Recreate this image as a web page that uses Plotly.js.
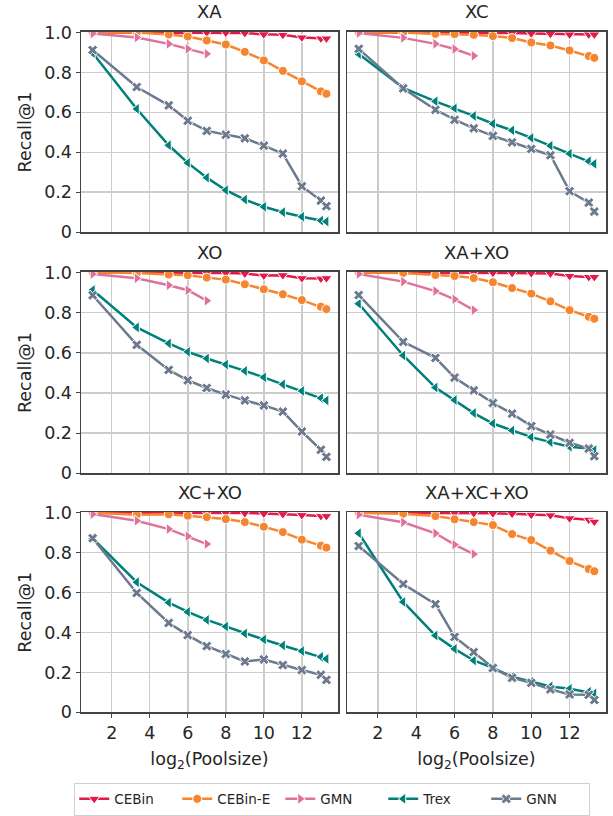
<!DOCTYPE html>
<html>
<head>
<meta charset="utf-8">
<script src="https://cdn.plot.ly/plotly-3.0.1.min.js"></script>
<style>html,body{margin:0;padding:0;background:#fff;}#chart{width:613px;height:816px;}</style>
</head>
<body>
<div id="chart"></div>
<script>
// log2(pool size): 2, 10, 32, 64, ..., 8192, 10000
const poolLog2 = [1, 3.32, 5, 6, 7, 8, 9, 10, 11, 12, 13, 13.29];
const gmnPoolLog2 = [1, 3.32, 5, 6, 7];
const panels = ['XA', 'XC', 'XO', 'XA+XO', 'XC+XO', 'XA+XC+XO'];
const methods = ['CEBin', 'CEBin-E', 'GMN', 'Trex', 'GNN'];
const xTicks = [2, 4, 6, 8, 10, 12];
const yTicks = [0, 0.2, 0.4, 0.6, 0.8, 1.0];
const yTickText = ['0', '0.2', '0.4', '0.6', '0.8', '1.0'];

const cebin = [
  [1.0, 1.0, 1.0, 1.0, 1.0, 0.999, 0.997, 0.991, 0.988, 0.975, 0.970, 0.970],
  [1.0, 1.0, 1.0, 1.0, 1.0, 1.0, 0.998, 0.995, 0.993, 0.990, 0.990, 0.990],
  [1.0, 1.0, 1.0, 1.0, 0.999, 0.998, 0.995, 0.985, 0.987, 0.972, 0.970, 0.972],
  [1.0, 1.0, 1.0, 1.0, 1.0, 0.999, 0.998, 0.997, 0.995, 0.983, 0.978, 0.978],
  [1.0, 1.0, 1.0, 1.0, 1.0, 0.999, 0.998, 0.996, 0.993, 0.988, 0.983, 0.983],
  [1.0, 1.0, 1.0, 0.999, 0.998, 0.997, 0.995, 0.990, 0.987, 0.972, 0.965, 0.955]
];
const cebinE = [
  [1.0, 1.0, 0.990, 0.980, 0.960, 0.940, 0.903, 0.860, 0.808, 0.755, 0.705, 0.693],
  [1.0, 1.0, 0.993, 0.992, 0.988, 0.982, 0.972, 0.950, 0.935, 0.910, 0.882, 0.873],
  [1.0, 0.998, 0.990, 0.987, 0.975, 0.965, 0.942, 0.917, 0.892, 0.863, 0.830, 0.818],
  [1.0, 0.998, 0.988, 0.983, 0.973, 0.952, 0.923, 0.895, 0.857, 0.813, 0.780, 0.770],
  [1.0, 0.990, 0.992, 0.985, 0.978, 0.968, 0.953, 0.930, 0.903, 0.865, 0.835, 0.825],
  [1.0, 0.995, 0.983, 0.967, 0.953, 0.938, 0.893, 0.863, 0.810, 0.758, 0.718, 0.707]
];
const gmn = [
  [0.995, 0.975, 0.943, 0.918, 0.893],
  [0.997, 0.973, 0.943, 0.917, 0.883],
  [0.993, 0.972, 0.937, 0.912, 0.860],
  [0.993, 0.955, 0.908, 0.867, 0.813],
  [0.993, 0.960, 0.918, 0.882, 0.843],
  [0.990, 0.952, 0.897, 0.840, 0.793]
];
const trex = [
  [0.897, 0.617, 0.435, 0.347, 0.273, 0.210, 0.163, 0.127, 0.100, 0.077, 0.058, 0.053],
  [0.892, 0.722, 0.655, 0.620, 0.582, 0.543, 0.510, 0.472, 0.433, 0.393, 0.355, 0.342],
  [0.913, 0.727, 0.647, 0.605, 0.572, 0.542, 0.510, 0.478, 0.443, 0.410, 0.375, 0.363],
  [0.845, 0.587, 0.427, 0.365, 0.300, 0.248, 0.213, 0.180, 0.155, 0.132, 0.123, 0.115],
  [0.872, 0.652, 0.550, 0.503, 0.463, 0.430, 0.395, 0.365, 0.335, 0.307, 0.278, 0.268],
  [0.897, 0.553, 0.385, 0.318, 0.260, 0.223, 0.178, 0.153, 0.130, 0.118, 0.103, 0.095]
];
const gnn = [
  [0.912, 0.727, 0.635, 0.558, 0.507, 0.488, 0.470, 0.433, 0.393, 0.230, 0.158, 0.130],
  [0.918, 0.720, 0.613, 0.563, 0.520, 0.482, 0.450, 0.417, 0.385, 0.205, 0.148, 0.103],
  [0.887, 0.640, 0.515, 0.463, 0.425, 0.392, 0.363, 0.338, 0.307, 0.208, 0.117, 0.082],
  [0.888, 0.655, 0.575, 0.477, 0.413, 0.350, 0.297, 0.235, 0.193, 0.152, 0.123, 0.085],
  [0.872, 0.598, 0.448, 0.387, 0.332, 0.292, 0.255, 0.265, 0.237, 0.212, 0.188, 0.163],
  [0.833, 0.643, 0.542, 0.378, 0.302, 0.222, 0.173, 0.148, 0.115, 0.090, 0.088, 0.062]
];

const colors = ['#e3194b', '#f5862f', '#e0719b', '#00807b', '#6c7a8e'];
const symbols = ['triangle-down', 'circle', 'triangle-right', 'triangle-left', 'x'];
const sizes = [10, 9, 10, 10, 9];
const seriesData = [cebin, cebinE, gmn, trex, gnn];

const txtColor = '#262626';
const font = 'DejaVu Sans, sans-serif';

const colDom = [[81/613, 338/613], [347/613, 606/613]];
const rowTop = [32, 273, 514];
const rowBot = [233, 475, 715];

const traces = [];
const layout = {
  width: 613, height: 816,
  margin: {l: 0, r: 0, t: 0, b: 0},
  paper_bgcolor: '#ffffff', plot_bgcolor: '#ffffff',
  font: {family: font, color: txtColor, size: 17.5},
  showlegend: true,
  legend: {
    orientation: 'h', x: 0.542, xanchor: 'center', y: 1 - 802/816, yanchor: 'middle',
    bordercolor: '#d0d0d0', borderwidth: 1, font: {size: 13.5, family: font, color: txtColor},
    itemwidth: 30, tracegroupgap: 0, entrywidth: 58, entrywidthmode: 'pixels'
  },
  annotations: []
};

panels.forEach((p, i) => {
  const r = Math.floor(i / 2), c = i % 2;
  const ax = i === 0 ? '' : String(i + 1);
  const xa = 'x' + ax, ya = 'y' + ax;
  const xaxis = {
    domain: colDom[c], range: [0.386, 13.9], anchor: ya,
    tickvals: xTicks, showticklabels: r === 2,
    ticks: r === 2 ? 'outside' : '', ticklen: 4, tickcolor: '#444',
    showgrid: true, gridcolor: '#cccccc', gridwidth: 1.5,
    showline: true, mirror: true, linecolor: '#444', linewidth: 1.5,
    zeroline: false, automargin: false,
    tickfont: {size: 17.5, family: font, color: txtColor}
  };
  if (r === 2) xaxis.title = {text: 'log<sub>2</sub>(Poolsize)', font: {size: 17.5, family: font, color: txtColor}, standoff: 11};
  const yaxis = {
    domain: [1 - rowBot[r]/816, 1 - rowTop[r]/816], range: [0, 1.003], anchor: xa,
    tickvals: yTicks, ticktext: yTickText, showticklabels: c === 0,
    ticks: c === 0 ? 'outside' : '', ticklen: 4, tickcolor: '#444',
    showgrid: true, gridcolor: '#cccccc', gridwidth: 1.5,
    showline: true, mirror: true, linecolor: '#444', linewidth: 1.5,
    zeroline: false, automargin: false,
    tickfont: {size: 17.5, family: font, color: txtColor}
  };
  if (c === 0) yaxis.title = {text: 'Recall@1', font: {size: 17.5, family: font, color: txtColor}, standoff: 8};
  layout['xaxis' + ax] = xaxis;
  layout['yaxis' + ax] = yaxis;
  layout.annotations.push({
    text: p, xref: 'paper', yref: 'paper',
    x: (colDom[c][0] + colDom[c][1]) / 2, y: 1 - (rowTop[r] - 20)/816,
    xanchor: 'center', yanchor: 'middle', showarrow: false,
    font: {size: 18, family: font, color: txtColor}
  });
  methods.forEach((m, k) => {
    const ys = seriesData[k][i];
    const xs = k === 2 ? gmnPoolLog2 : poolLog2;
    traces.push({
      type: 'scatter', mode: 'lines+markers', x: xs, y: ys,
      xaxis: xa, yaxis: ya, name: m, legendgroup: m, showlegend: i === 0,
      cliponaxis: true,
      line: {color: colors[k], width: 2.5},
      marker: {symbol: symbols[k], size: sizes[k], color: colors[k], line: {color: '#ffffff', width: 1}}
    });
  });
});

Plotly.newPlot('chart', traces, layout, {displayModeBar: false, staticPlot: true});
</script>
</body>
</html>
